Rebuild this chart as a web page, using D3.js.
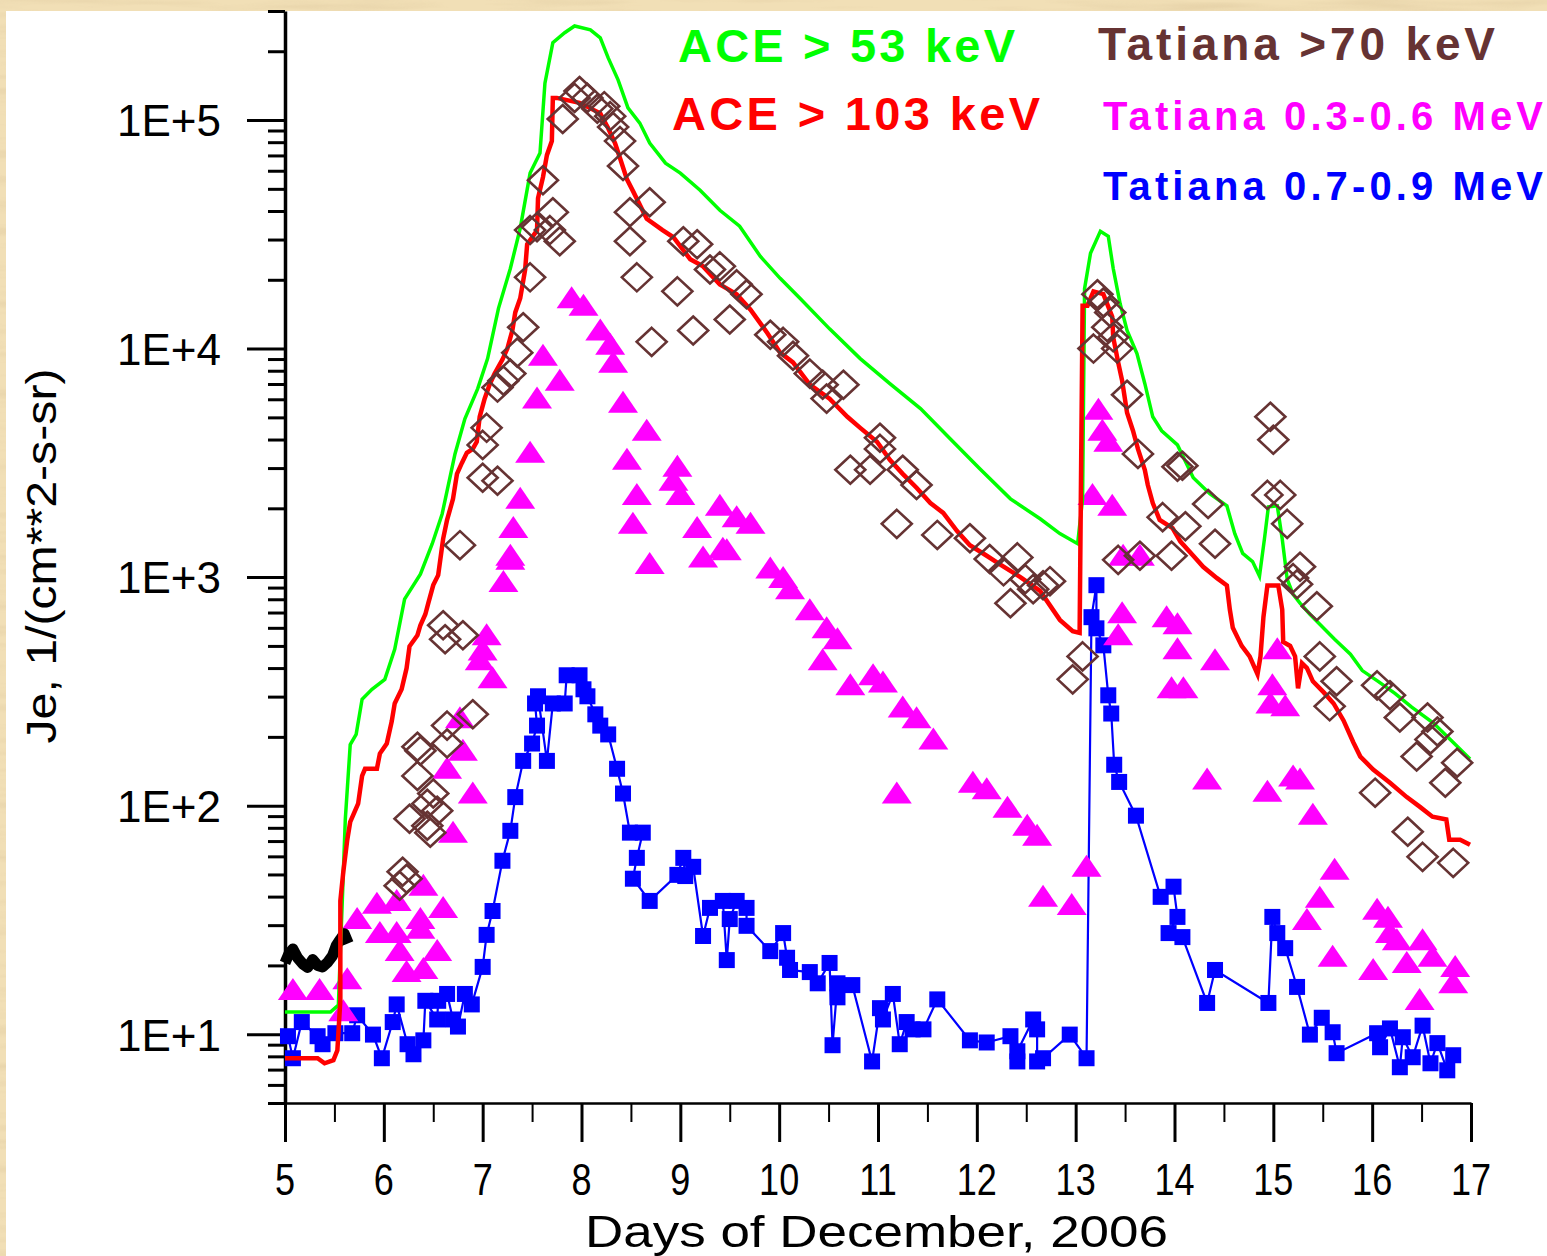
<!DOCTYPE html>
<html lang="en">
<head>
<meta charset="utf-8">
<title>Je electrons, December 2006</title>
<style>
  body { margin: 0; background: #efdcb2; }
  svg { display: block; }
  text { font-family: 'Liberation Sans', Arial, sans-serif; }
</style>
</head>
<body>
<div id="viz"></div>
<script src="https://d3js.org/d3.v7.min.js"></script>
<script>
// ---- data: [day of December 2006, flux] ----
const dayTicks = [5, 6, 7, 8, 9, 10, 11, 12, 13, 14, 15, 16, 17];
const fluxTicks = [10, 100, 1000, 10000, 100000];

const aceLow = [ // ACE > 53 keV
  [5.00,12.5],[5.46,12.5],[5.54,13.4],[5.58,38.7],[5.61,86.9],[5.66,185],[5.72,205],[5.78,292],[5.88,323],[6.01,357],
  [6.11,483],[6.21,801],[6.37,1030],[6.49,1400],[6.59,1890],[6.72,3460],[6.82,4930],[6.95,6680],[7.05,9040],[7.16,15000],
  [7.28,22400],[7.38,33600],[7.48,58600],[7.58,71700],[7.63,145000],[7.71,218000],[7.83,241000],[7.93,258000],[8.09,248000],
  [8.19,229000],[8.27,187000],[8.37,150000],[8.47,113000],[8.59,97000],[8.69,79300],[8.85,64800],[9.00,58600],[9.20,49300],
  [9.40,40300],[9.60,34300],[9.81,25300],[10.01,20300],[10.21,16600],[10.51,12200],[10.82,9040],[11.12,7020],[11.43,5460],
  [11.73,4030],[12.03,2980],[12.34,2200],[12.64,1800],[12.84,1550],[13.02,1400],[13.07,2200],[13.09,18300],[13.15,26100],
  [13.25,32600],[13.33,31000],[13.38,22400],[13.45,15700],[13.52,12000],[13.62,9500],[13.70,7020],[13.78,5030],[13.87,4370],
  [14.03,3790],[14.19,2720],[14.36,2310],[14.53,2050],[14.61,1550],[14.69,1270],[14.79,1170],[14.86,1010],[14.91,1470],
  [14.95,2030],[15.04,2050],[15.09,1470],[15.14,980],[15.20,840],[15.27,770],[15.37,688],[15.47,622],[15.62,535],[15.78,460],
  [15.90,390],[16.06,350],[16.23,310],[16.40,270],[16.62,230],[16.79,195],[16.99,160]
];

const aceHigh = [ // ACE > 103 keV
  [5.00,7.85],[5.33,7.85],[5.40,7.46],[5.49,7.7],[5.53,8.5],[5.56,14.1],[5.56,38.3],[5.59,51.4],[5.63,70.9],[5.66,85],
  [5.74,102],[5.78,135],[5.81,145],[5.93,145],[5.96,169],[6.03,187],[6.08,234],[6.11,280],[6.18,323],[6.23,399],[6.26,498],
  [6.34,557],[6.37,616],[6.42,688],[6.45,769],[6.50,923],[6.55,1020],[6.60,1470],[6.64,1780],[6.70,2200],[6.74,2830],
  [6.79,3160],[6.84,3500],[6.90,3640],[6.94,3910],[6.97,5030],[7.02,6040],[7.07,6950],[7.12,7760],[7.20,8950],[7.25,10000],
  [7.30,12000],[7.33,14400],[7.38,16600],[7.43,22200],[7.45,28600],[7.55,32900],[7.56,45500],[7.61,56200],[7.65,70200],
  [7.70,80900],[7.71,125000],[7.75,125000],[7.98,119000],[8.19,107000],[8.27,92000],[8.34,79000],[8.39,68000],[8.46,55000],
  [8.52,49000],[8.66,37000],[8.82,33000],[8.93,30700],[9.10,24600],[9.23,22900],[9.40,19100],[9.57,17300],[9.71,14800],
  [9.81,12900],[9.88,11700],[10.01,9600],[10.14,8700],[10.31,6950],[10.51,6040],[10.69,5030],[10.82,4500],[10.99,3910],
  [11.12,3260],[11.25,2830],[11.39,2460],[11.53,2110],[11.66,1910],[11.80,1590],[11.93,1380],[12.10,1240],[12.23,1140],
  [12.44,1000],[12.64,870],[12.84,650],[12.97,580],[13.04,570],[13.07,15400],[13.12,15400],[13.18,17800],[13.28,17300],
  [13.37,13800],[13.38,11200],[13.43,8700],[13.47,7240],[13.52,5240],[13.58,4370],[13.63,3640],[13.70,2940],[13.73,2530],
  [13.78,2110],[13.85,1780],[13.98,1640],[14.06,1430],[14.19,1240],[14.29,1110],[14.43,990],[14.53,920],[14.56,720],
  [14.59,600],[14.68,500],[14.76,450],[14.84,376],[14.87,450],[14.90,670],[14.94,920],[15.05,920],[15.09,720],[15.10,520],
  [15.17,500],[15.22,450],[15.25,326],[15.29,420],[15.34,400],[15.40,350],[15.51,313],[15.61,280],[15.71,236],[15.81,189],
  [15.88,164],[16.01,144],[16.18,126],[16.35,109],[16.48,99],[16.61,89.5],[16.75,87],[16.78,71],[16.89,71],[16.99,67.4]
];

const tatiana70 = [ // Tatiana >70 keV, open diamonds
  [6.16,44.6],[6.19,51.4],[6.23,47.9],[6.26,87.7],[6.34,135],[6.34,181],[6.37,174],[6.44,102],[6.44,81.7],[6.47,76.2],
  [6.50,113],[6.54,95],[6.64,224],[6.64,187],[6.90,251],[6.60,616],[6.80,557],[6.62,535],[6.77,1380],[7.00,2720],
  [7.15,2640],[7.04,4500],[7.00,3790],[7.15,6750],[7.21,7240],[7.28,7770],[7.35,9600],[7.41,12400],[7.48,20500],
  [7.61,54500],[7.71,39500],[7.78,29500],[7.48,33000],[7.55,34000],[7.68,33000],[7.81,101000],[7.93,125000],[7.98,134000],
  [8.06,125000],[8.16,112000],[8.23,115000],[8.29,104000],[8.32,93200],[8.39,80900],[8.42,62900],[8.69,43700],[8.49,39500],
  [8.49,29500],[8.56,20500],[8.71,10700],[8.97,17800],[9.03,29500],[9.17,28600],[9.13,12000],[9.30,22200],[9.40,22900],
  [9.57,19100],[9.67,17300],[9.50,13400],[9.91,11500],[10.04,10700],[10.14,9310],[10.31,7770],[10.44,6950],[10.65,6950],
  [10.48,6040],[11.02,4070],[11.02,3640],[10.72,2950],[10.92,2950],[11.25,2950],[11.39,2530],[11.19,1710],[11.60,1530],
  [11.93,1480],[12.13,1200],[12.27,1060],[12.41,1220],[12.57,886],[12.67,922],[12.34,769],[12.49,980],[12.74,960],
  [12.97,357],[13.07,450],[13.22,17300],[13.28,15900],[13.35,14400],[13.32,12400],[13.38,11200],[13.18,10000],[13.42,10000],
  [13.52,6280],[13.63,3460],[14.03,3040],[14.08,3070],[14.34,2090],[13.88,1830],[14.11,1670],[14.41,1400],[13.97,1240],
  [13.43,1190],[13.65,1240],[14.97,5030],[15.00,3990],[14.94,2290],[15.07,2290],[15.14,1710],[15.27,1110],[15.20,990],
  [15.24,930],[15.44,746],[15.47,450],[15.64,350],[15.57,272],[16.05,336],[16.18,304],[16.28,243],[16.56,243],[16.66,211],
  [16.45,164],[16.59,195],[16.86,154],[16.74,126],[16.03,114],[16.36,76.9],[16.51,59.7],[16.82,56.2]
];

const tatianaMid = [ // Tatiana 0.3-0.6 MeV, filled triangles
  [5.08,15.6],[5.35,15.6],[5.63,17.4],[5.59,12.6],[5.73,31.9],[5.93,37.2],[6.13,38.3],[5.96,27.7],[6.13,27.7],[6.16,23.1],
  [6.37,31.9],[6.37,28.9],[6.40,44.6],[6.60,35.7],[6.54,23.1],[6.23,18.7],[6.40,19.3],[7.04,557],[7.00,478],[6.97,433],
  [7.10,361],[7.28,1190],[7.21,951],[8.69,1140],[6.77,241],[6.80,174],[6.64,145],[6.90,113],[6.70,76.2],[7.90,16600],
  [8.02,15400],[8.19,12000],[8.29,10400],[8.32,8680],[7.61,9310],[7.78,7240],[7.55,6040],[8.42,5800],[8.66,4370],
  [7.48,3500],[8.46,3260],[7.38,2200],[8.56,2290],[7.31,1640],[8.52,1710],[7.28,1240],[8.93,2640],[8.97,3040],[9.00,2290],
  [9.40,2050],[9.57,1830],[9.17,1640],[9.43,1330],[9.23,1220],[9.47,1310],[9.71,1710],[9.91,1090],[10.04,990],[10.11,886],
  [10.31,717],[10.48,597],[10.59,535],[10.44,433],[10.72,336],[10.95,372],[11.05,346],[11.25,269],[11.39,241],[11.56,195],
  [11.19,113],[11.96,126],[12.10,118],[12.31,98],[12.51,81.7],[12.61,73.9],[12.67,39.9],[12.96,36.8],[13.11,54],
  [13.23,5400],[13.27,4370],[13.33,3910],[13.17,2290],[13.37,2050],[13.48,1240],[13.65,1240],[13.47,695],[13.43,557],
  [13.92,668],[14.03,622],[14.03,483],[14.41,433],[13.97,326],[14.09,326],[15.04,483],[14.99,336],[14.97,280],[15.12,272],
  [14.33,130],[14.94,115],[15.20,134],[15.27,130],[15.40,91.3],[15.62,52.4],[15.47,39.5],[15.34,31.6],[15.60,21.8],
  [16.01,19.1],[16.05,35],[16.16,32.3],[16.18,27.7],[16.25,25.8],[16.51,25.8],[16.35,20.5],[16.61,21.8],[16.84,19.7],
  [16.82,16.7],[16.48,14.1]
];

const tatianaHigh = [ // Tatiana 0.7-0.9 MeV, squares joined by a line
  [5.03,9.8],[5.08,7.85],[5.17,11.3],[5.33,9.8],[5.38,9.04],[5.51,10.1],[5.68,10.1],[5.73,12.1],[5.89,9.96],[5.98,7.85],
  [6.09,11.3],[6.13,13.5],[6.24,9.04],[6.30,8.17],[6.40,9.4],[6.42,14.0],[6.54,11.6],[6.55,14.0],[6.64,15.0],[6.70,11.6],
  [6.75,10.8],[6.82,15.0],[6.89,13.5],[7.00,19.7],[7.04,27.2],[7.10,34.6],[7.20,57.4],[7.28,77.6],[7.33,109],[7.41,157],
  [7.50,187],[7.55,224],[7.53,280],[7.56,301],[7.65,157],[7.71,280],[7.83,280],[7.85,372],[7.98,372],[8.02,323],[8.06,301],
  [8.14,251],[8.19,224],[8.27,205],[8.36,145],[8.42,113],[8.49,76.2],[8.62,76.2],[8.56,59.1],[8.52,47.9],[8.69,38.3],
  [8.97,49.8],[9.03,59.1],[9.05,49.2],[9.13,54],[9.23,26.9],[9.30,35.7],[9.43,38.3],[9.47,21.1],[9.50,31.9],[9.57,38.3],
  [9.67,35.7],[9.67,29.8],[9.91,23.1],[10.04,27.7],[10.08,21.6],[10.11,19.1],[10.31,18.7],[10.39,16.7],[10.51,20.5],
  [10.54,8.95],[10.59,16.7],[10.59,14.5],[10.74,16.4],[10.94,7.6],[11.02,13.0],[11.05,11.6],[11.15,15.0],[11.22,9.04],
  [11.29,11.3],[11.35,10.5],[11.46,10.5],[11.60,14.2],[11.93,9.4],[12.10,9.2],[12.34,9.8],[12.41,7.6],[12.41,8.42],
  [12.57,11.6],[12.61,10.5],[12.61,7.6],[12.67,7.85],[12.94,9.96],[13.11,7.85],[13.16,668],[13.21,922],[13.21,597],
  [13.28,503],[13.33,304],[13.36,253],[13.39,151],[13.44,127],[13.61,90.4],[13.86,39.9],[13.99,44.2],[14.03,32.6],
  [13.94,27.7],[14.08,26.6],[14.33,13.7],[14.41,19.1],[14.95,13.7],[14.99,32.6],[15.04,27.7],[15.12,23.8],[15.24,16.1],
  [15.37,9.96],[15.49,11.8],[15.60,10.2],[15.64,8.26],[16.05,10.1],[16.08,8.77],[16.18,10.6],[16.28,7.17],[16.31,9.7],
  [16.41,7.93],[16.51,10.9],[16.59,7.46],[16.66,9.14],[16.76,6.95],[16.82,8.09]
];

const preEvent = [ // black trace before the event
  [5.00,20.5],[5.04,22.5],[5.08,23.6],[5.13,21.5],[5.18,20.3],[5.23,19.6],[5.28,21.2],[5.33,20.0],[5.38,19.7],
  [5.43,20.6],[5.48,22.0],[5.52,24.5],[5.56,26.0],[5.60,27.5],[5.64,25.0]
];

const legend = [
  { label: "ACE > 53 keV", color: "#00ff00" },
  { label: "ACE > 103 keV", color: "#ff0000" },
  { label: "Tatiana >70 keV", color: "#663333" },
  { label: "Tatiana 0.3-0.6 MeV", color: "#ff00ff" },
  { label: "Tatiana 0.7-0.9 MeV", color: "#0000ff" }
];

// ---- layout ----
const W = 1547, H = 1256;

const svg = d3.select("#viz").append("svg")
  .attr("width", W)
  .attr("height", H);

// parchment background with a bit of grain, white plot card on top
const defs = svg.append("defs");
const grain = defs.append("filter").attr("id", "grain")
  .attr("x", 0).attr("y", 0).attr("width", "100%").attr("height", "100%");
grain.append("feTurbulence").attr("type", "fractalNoise")
  .attr("baseFrequency", "0.006 0.08").attr("numOctaves", 3).attr("seed", 7);
grain.append("feColorMatrix").attr("type", "matrix")
  .attr("values", "0 0 0 0 0.70  0 0 0 0 0.55  0 0 0 0 0.32  1.8 0 0 0 -0.85");

svg.append("rect").attr("width", W).attr("height", H).attr("fill", "#f1dfb6");
svg.append("rect").attr("width", W).attr("height", H).attr("filter", "url(#grain)").attr("opacity", 0.6);
svg.append("rect").attr("x", 6).attr("y", 11).attr("width", W - 6).attr("height", H - 11).attr("fill", "#ffffff");

const x = d3.scaleLinear().domain([5, 17]).range([285, 1471]);
const y = d3.scaleLog().domain([5, 3e5]).range([1103, 11]);

// minor ticks at 2..9 of every decade inside the domain
const yMinor = [];
for (let dec = 1; dec <= 1e5; dec *= 10) {
  for (let k = 2; k <= 9; k++) {
    const v = k * dec;
    if (v >= 5 && v <= 3e5) yMinor.push(v);
  }
}
const xMinor = d3.range(5.5, 17, 1);

// ---- axes ----
svg.append("g")
  .attr("transform", `translate(${x(5)},0)`)
  .call(d3.axisLeft(y).tickValues(yMinor).tickSize(17).tickSizeOuter(0).tickFormat(""))
  .call(g => g.select(".domain").remove())
  .call(g => g.selectAll(".tick line").attr("stroke", "#000").attr("stroke-width", 3));

svg.append("g")
  .attr("transform", `translate(${x(5)},0)`)
  .call(d3.axisLeft(y).tickValues(fluxTicks).tickSize(38).tickSizeOuter(0).tickPadding(26)
    .tickFormat(d => "1E+" + Math.round(Math.log10(d))))
  .call(g => g.select(".domain").attr("stroke", "#000").attr("stroke-width", 3.5))
  .call(g => g.selectAll(".tick line").attr("stroke", "#000").attr("stroke-width", 3))
  .call(g => g.selectAll(".tick text")
    .attr("fill", "#000")
    .attr("font-size", 44)
    .attr("font-family", "'Liberation Sans', Arial, sans-serif")
    .attr("dy", "0.36em"));

svg.append("g")
  .attr("transform", `translate(0,${y(5)})`)
  .call(d3.axisBottom(x).tickValues(xMinor).tickSize(19).tickSizeOuter(0).tickFormat(""))
  .call(g => g.select(".domain").remove())
  .call(g => g.selectAll(".tick line").attr("stroke", "#000").attr("stroke-width", 2));

svg.append("g")
  .attr("transform", `translate(0,${y(5)})`)
  .call(d3.axisBottom(x).tickValues(dayTicks).tickSize(39).tickSizeOuter(0).tickFormat(""))
  .call(g => g.select(".domain").attr("stroke", "#000").attr("stroke-width", 2.5))
  .call(g => g.selectAll(".tick line").attr("stroke", "#000").attr("stroke-width", 3));

svg.append("g").selectAll("text")
  .data(dayTicks)
  .join("text")
  .attr("transform", d => `translate(${x(d)},1195) scale(0.82,1)`)
  .attr("text-anchor", "middle")
  .attr("font-size", 44)
  .attr("fill", "#000")
  .text(d => d);

svg.append("text")
  .attr("x", 585).attr("y", 1247)
  .attr("font-size", 44)
  .attr("textLength", 583)
  .attr("lengthAdjust", "spacingAndGlyphs")
  .attr("fill", "#000")
  .text("Days of December, 2006");

svg.append("text")
  .attr("transform", "translate(56,556) rotate(-90)")
  .attr("text-anchor", "middle")
  .attr("font-size", 42)
  .attr("textLength", 375)
  .attr("lengthAdjust", "spacingAndGlyphs")
  .attr("fill", "#000")
  .text("Je, 1/(cm**2-s-sr)");

// ---- series ----
const line = d3.line().x(d => x(d[0])).y(d => y(d[1]));
const plot = svg.append("g");

// blue squares joined by a thin line
plot.append("path")
  .datum(tatianaHigh)
  .attr("d", line)
  .attr("fill", "none")
  .attr("stroke", "#0000ff")
  .attr("stroke-width", 2.2);

plot.append("g").selectAll("rect")
  .data(tatianaHigh)
  .join("rect")
  .attr("x", d => x(d[0]) - 8)
  .attr("y", d => y(d[1]) - 8)
  .attr("width", 16)
  .attr("height", 16)
  .attr("fill", "#0000ff");

// magenta triangles
plot.append("g").selectAll("path")
  .data(tatianaMid)
  .join("path")
  .attr("transform", d => `translate(${x(d[0])},${y(d[1])})`)
  .attr("d", "M0,-12L15,10L-15,10Z")
  .attr("fill", "#ff00ff");

// black pre-event trace
plot.append("path")
  .datum(preEvent)
  .attr("d", line)
  .attr("fill", "none")
  .attr("stroke", "#000")
  .attr("stroke-width", 11)
  .attr("stroke-linejoin", "round");

plot.append("path")
  .datum(aceLow)
  .attr("d", line)
  .attr("fill", "none")
  .attr("stroke", "#00ff00")
  .attr("stroke-width", 3.5);

plot.append("path")
  .datum(aceHigh)
  .attr("d", line)
  .attr("fill", "none")
  .attr("stroke", "#ff0000")
  .attr("stroke-width", 4.5);

// brown open diamonds
plot.append("g").selectAll("path")
  .data(tatiana70)
  .join("path")
  .attr("transform", d => `translate(${x(d[0])},${y(d[1])})`)
  .attr("d", "M0,-14L15,0L0,14L-15,0Z")
  .attr("fill", "none")
  .attr("stroke", "#663333")
  .attr("stroke-width", 2.6);

// ---- legend text ----
const legendPos = [
  { x: 678, y: 62, size: 47, len: 337 },
  { x: 672, y: 130, size: 47, len: 368 },
  { x: 1098, y: 60, size: 46, len: 397 },
  { x: 1103, y: 130, size: 40, len: 440 },
  { x: 1103, y: 200, size: 40, len: 440 }
];

svg.append("g").selectAll("text")
  .data(legend)
  .join("text")
  .attr("x", (d, i) => legendPos[i].x)
  .attr("y", (d, i) => legendPos[i].y)
  .attr("font-size", (d, i) => legendPos[i].size)
  .attr("textLength", (d, i) => legendPos[i].len)
  .attr("lengthAdjust", "spacing")
  .attr("font-weight", "bold")
  .attr("fill", d => d.color)
  .text(d => d.label);
</script>
</body>
</html>
